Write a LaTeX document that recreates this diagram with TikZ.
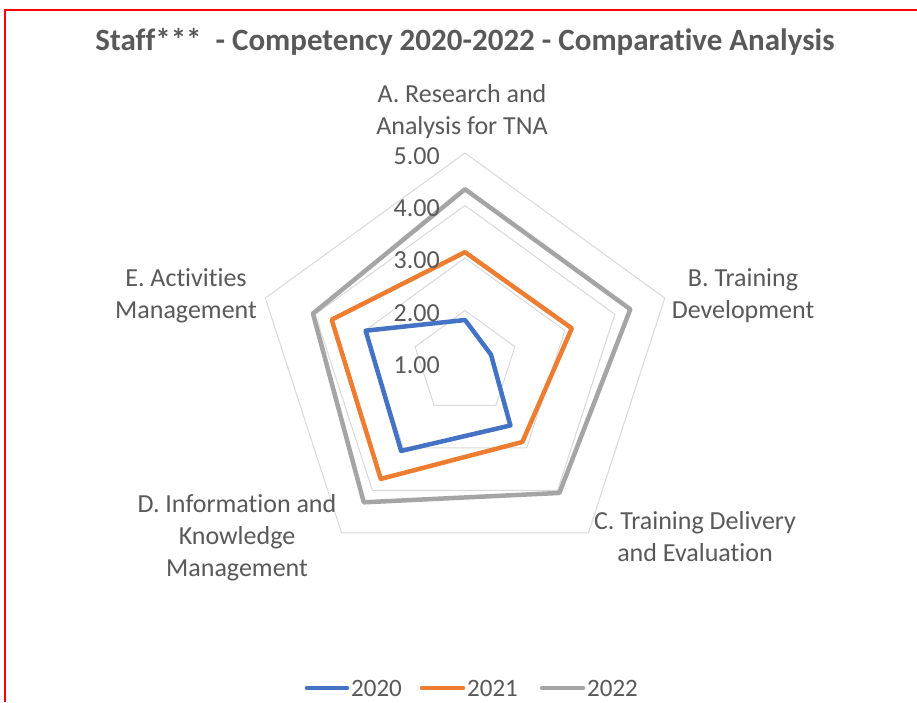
\documentclass[tikz,border=0pt]{standalone}
\usepackage{fontspec}
\setmainfont{Carlito}[Ligatures={NoCommon}]
\definecolor{txtgray}{HTML}{595959}
\definecolor{gridgray}{HTML}{D9D9D9}
\definecolor{ser2020}{HTML}{4472C4}
\definecolor{ser2021}{HTML}{ED7D31}
\definecolor{ser2022}{HTML}{A5A5A5}
\tikzset{
  axislabel/.style={text=txtgray, align=center, font=\fontsize{26}{32}\selectfont},
  ticklabel/.style={text=txtgray, anchor=east, inner sep=1pt, font=\fontsize{26}{30}\selectfont},
  legendtext/.style={text=txtgray, anchor=west, inner sep=1pt, font=\fontsize{25}{30}\selectfont},
  series/.style={line width=4.5pt, line join=round},
  legendline/.style={line width=4.5pt, line cap=round}
}
\begin{document}
\begin{tikzpicture}[x=1pt, y=1pt]

\useasboundingbox (0,0) rectangle (917,702);
\fill[white] (0,0) rectangle (917,702);

% frame
\draw[red, line width=1.5pt] (5,0) -- (5,692) -- (917,692);

\node[text=txtgray, font=\fontsize{31}{36}\selectfont\bfseries] (title) at (465,660) {Staff***~ - Competency 2020-2022 - Comparative Analysis};

\begin{scope}[shift={(465,339)}]
% grid
\foreach \r in {1,2,3,4}
  \draw[gridgray, line width=1pt] (90:52.5*\r) -- (18:52.5*\r) -- (-54:52.5*\r) -- (-126:52.5*\r) -- (162:52.5*\r) -- cycle;

% series
\draw[series, ser2020] (90:43) -- (18:27.3) -- (-54:77.2) -- (-126:108.7) -- (162:104.5) -- cycle;
\draw[series, ser2021] (90:110.8) -- (18:112.3) -- (-54:97.6) -- (-126:143.3) -- (162:140.2) -- cycle;
\draw[series, ser2022] (90:173.8) -- (18:173.8) -- (-54:160.6) -- (-126:172.2) -- (162:159.9) -- cycle;
\end{scope}

% tick values
\node[ticklabel] (t5) at (441,546) {5.00};
\node[ticklabel] (t4) at (441,494) {4.00};
\node[ticklabel] (t3) at (441,442) {3.00};
\node[ticklabel] (t2) at (441,389) {2.00};
\node[ticklabel] (t1) at (441,337) {1.00};

% axis names
\node[axislabel] (axA) at (462,590) {A. Research and\\Analysis for TNA};
\node[axislabel] (axB) at (743,406) {B. Training\\Development};
\node[axislabel] (axC) at (695,165) {C. Training Delivery\\and Evaluation};
\node[axislabel] (axD) at (237,164) {D. Information and\\Knowledge\\Management};
\node[axislabel] (axE) at (186,406) {E. Activities\\Management};

% legend
\draw[legendline, ser2020] (307,14) -- (347,14);
\node[legendtext] (l2020) at (350,14) {2020};
\draw[legendline, ser2021] (422,14) -- (463,14);
\node[legendtext] (l2021) at (466,14) {2021};
\draw[legendline, ser2022] (542,14) -- (583,14);
\node[legendtext] (l2022) at (586,14) {2022};

\end{tikzpicture}
\end{document}
